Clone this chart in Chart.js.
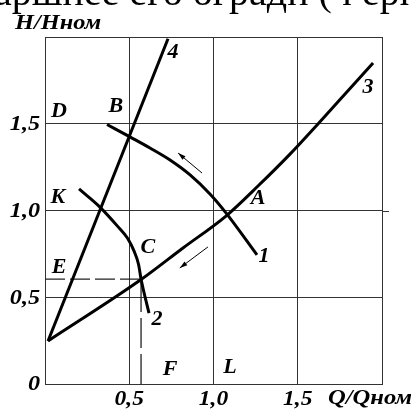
<!DOCTYPE html>
<html>
<head>
<meta charset="utf-8">
<script src="https://cdn.jsdelivr.net/npm/chart.js@4/dist/chart.umd.min.js"></script>
<style>
html,body{margin:0;padding:0;background:#fff;}
canvas{display:block;}
</style>
</head>
<body>
<canvas id="c" width="411" height="412"></canvas>
<script>
// ---- data ----
const qTicks = [0.5, 1.0, 1.5];
const qTickLabels = ['0,5', '1,0', '1,5'];
const hTicks = [0, 0.5, 1.0, 1.5];
const hTickLabels = ['0', '0,5', '1,0', '1,5'];
const xTitle = 'Q/Qном';
const yTitle = 'H/Hном';
const topText = 'аршнее его оградн (ч ерп';

const curve1Q = [0.368, 0.504, 0.623, 0.742, 0.861, 0.979, 1.074, 1.258];
const curve1H = [1.496, 1.424, 1.360, 1.291, 1.205, 1.095, 0.986, 0.744];

const curve2Q = [0.202, 0.332, 0.43, 0.49, 0.528, 0.555, 0.57, 0.617];
const curve2H = [1.124, 1.014, 0.91, 0.84, 0.767, 0.69, 0.605, 0.409];

const curve3Q = [0.018, 0.57, 0.819, 1.074, 1.264, 1.454, 1.620, 1.786, 1.947];
const curve3H = [0.248, 0.602, 0.784, 0.968, 1.141, 1.325, 1.499, 1.677, 1.850];

const curve4Q = [0.018, 0.73];
const curve4H = [0.248, 1.99];

const pointC = [0.57, 0.605];

const arrow1 = [[0.932, 1.216], [0.79, 1.331]];
const arrow2 = [[0.967, 0.79], [0.80, 0.669]];

const pointLabels = ['D', 'B', 'K', 'E', 'A', 'C', '1', '4', '3', '2', 'F', 'L'];
const pointLabelQ = [0.083, 0.421, 0.077, 0.083, 1.264, 0.611, 1.30, 0.76, 1.917, 0.665, 0.742, 1.098];
const pointLabelH = [1.568, 1.597, 1.072, 0.669, 1.066, 0.784, 0.732, 1.908, 1.706, 0.369, 0.081, 0.092];

// ---- build ----
function pts(qs, hs) { return qs.map((q, i) => ({x: q, y: hs[i]})); }

const curveStyle = {borderColor: '#000', borderWidth: 3, pointRadius: 0, fill: false,
  cubicInterpolationMode: 'monotone', borderCapStyle: 'butt'};

const datasets = [
  Object.assign({data: pts(curve1Q, curve1H)}, curveStyle),
  Object.assign({data: pts(curve2Q, curve2H)}, curveStyle),
  Object.assign({data: pts(curve3Q, curve3H)}, curveStyle),
  Object.assign({data: pts(curve4Q, curve4H)}, curveStyle, {cubicInterpolationMode: 'default', tension: 0}),
  {data: [{x: 0, y: pointC[1]}, {x: pointC[0], y: pointC[1]}], borderColor: '#222', borderWidth: 1.3,
   borderDash: [20, 5], pointRadius: 0, tension: 0},
  {data: [{x: pointC[0], y: 0}, {x: pointC[0], y: pointC[1]}], borderColor: '#222', borderWidth: 1.3,
   borderDash: [30, 6], pointRadius: 0, tension: 0}
];

const serif = "'Liberation Serif', 'DejaVu Serif', serif";

function stretchText(ctx, text, x, y, sx) {
  ctx.save();
  ctx.translate(x, y);
  ctx.scale(sx, 1);
  ctx.fillText(text, 0, 0);
  ctx.restore();
}

const overlay = {
  id: 'overlay',
  afterDraw(chart) {
    const ctx = chart.ctx;
    const xs = chart.scales.x, ys = chart.scales.y;
    const area = chart.chartArea;
    ctx.save();
    // extension of the 1,0 line
    ctx.strokeStyle = '#333'; ctx.lineWidth = 1;
    const y1 = Math.round(ys.getPixelForValue(1.0)) + 0.5;
    ctx.beginPath(); ctx.moveTo(area.right, y1); ctx.lineTo(area.right + 7, y1); ctx.stroke();

    // arrows
    function arrow(a) {
      const x0 = xs.getPixelForValue(a[0][0]), y0 = ys.getPixelForValue(a[0][1]);
      const x1 = xs.getPixelForValue(a[1][0]), y1 = ys.getPixelForValue(a[1][1]);
      ctx.strokeStyle = '#000'; ctx.fillStyle = '#000'; ctx.lineWidth = 1;
      ctx.beginPath(); ctx.moveTo(x0, y0); ctx.lineTo(x1, y1); ctx.stroke();
      const ang = Math.atan2(y1 - y0, x1 - x0);
      const L = 8, W = 0.3;
      ctx.beginPath();
      ctx.moveTo(x1, y1);
      ctx.lineTo(x1 - L * Math.cos(ang - W), y1 - L * Math.sin(ang - W));
      ctx.lineTo(x1 - L * Math.cos(ang + W), y1 - L * Math.sin(ang + W));
      ctx.closePath(); ctx.fill();
    }
    arrow(arrow1); arrow(arrow2);

    ctx.fillStyle = '#000';
    // point labels
    ctx.font = 'italic bold 21px ' + serif;
    ctx.textAlign = 'center'; ctx.textBaseline = 'middle';
    pointLabels.forEach((t, i) => {
      stretchText(ctx, t, xs.getPixelForValue(pointLabelQ[i]), ys.getPixelForValue(pointLabelH[i]), 1.05);
    });

    // tick labels
    ctx.font = 'italic bold 21px ' + serif;
    ctx.textAlign = 'center'; ctx.textBaseline = 'alphabetic';
    qTicks.forEach((v, i) => {
      stretchText(ctx, qTickLabels[i], xs.getPixelForValue(v), area.bottom + 21, 1.12);
    });
    ctx.textAlign = 'right'; ctx.textBaseline = 'middle';
    hTicks.forEach((v, i) => {
      stretchText(ctx, hTickLabels[i], area.left - 5, ys.getPixelForValue(v) + 1, 1.15);
    });

    // axis titles
    ctx.font = 'italic bold 21px ' + serif;
    ctx.textAlign = 'left'; ctx.textBaseline = 'alphabetic';
    stretchText(ctx, xTitle, area.right - 54, area.bottom + 20, 1.17);
    stretchText(ctx, yTitle, area.left - 30, area.top - 8, 1.16);

    // cut-off text at the top
    ctx.font = '40px ' + serif;
    ctx.textAlign = 'left'; ctx.textBaseline = 'alphabetic';
    ctx.fillText(topText, -6, 5);
    ctx.restore();
  }
};

new Chart(document.getElementById('c'), {
  type: 'line',
  data: {datasets},
  options: {
    responsive: false,
    animation: false,
    events: [],
    layout: {padding: {left: 45, right: 29, top: 37, bottom: 28}},
    plugins: {legend: {display: false}, tooltip: {enabled: false}},
    scales: {
      x: {type: 'linear', min: 0, max: 2,
          ticks: {display: false, stepSize: 0.5},
          grid: {color: '#333', lineWidth: 1, drawTicks: false},
          border: {color: '#333', width: 1}},
      y: {type: 'linear', min: 0, max: 2,
          ticks: {display: false, stepSize: 0.5},
          grid: {color: '#333', lineWidth: 1, drawTicks: false},
          border: {color: '#333', width: 1}}
    }
  },
  plugins: [overlay]
});
</script>
</body>
</html>
